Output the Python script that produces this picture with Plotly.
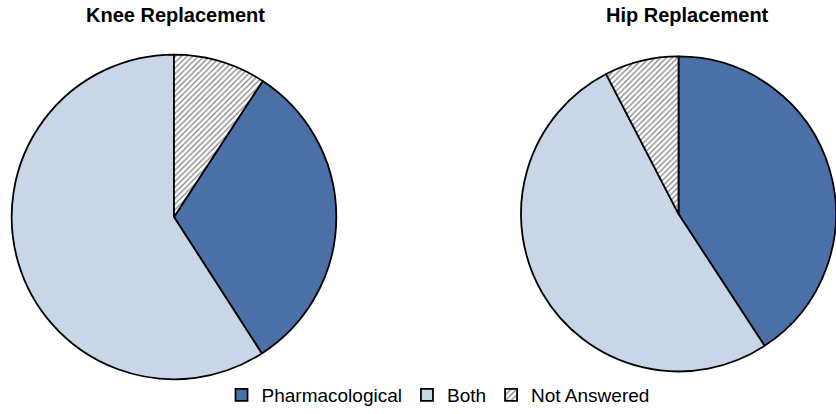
import plotly.graph_objects as go

labels = ["Pharmacological", "Both", "Not Answered"]
knee_values = [31.7, 59.1, 9.2]
hip_values = [40.8, 51.6, 7.6]
titles = ["Knee Replacement", "Hip Replacement"]

colors = ["#4b6fa7", "#c9d6e8", "#ffffff"]
patterns = ["", "", "/"]

W, H = 836, 414
FONT = "Liberation Sans, Arial, sans-serif"

def marker():
    return dict(
        colors=colors,
        line=dict(color="#000000", width=1.8),
        pattern=dict(shape=patterns, fgcolor="#000000", bgcolor="#ffffff",
                     size=4, solidity=0.3, fillmode="overlay"),
    )

fig = go.Figure()

# Knee: "Not Answered" sits just clockwise of 12 o'clock, so the first slice
# is rotated past it.
fig.add_trace(go.Pie(
    labels=labels, values=knee_values, sort=False, direction="clockwise",
    rotation=knee_values[2] / sum(knee_values) * 360,
    marker=marker(), textinfo="none", hoverinfo="label+percent",
    domain=dict(x=[11 / W, 337 / W], y=[(H - 382) / H, (H - 55) / H]),
    showlegend=True,
))

fig.add_trace(go.Pie(
    labels=labels, values=hip_values, sort=False, direction="clockwise",
    rotation=0,
    marker=marker(), textinfo="none", hoverinfo="label+percent",
    domain=dict(x=[521 / W, 1.0], y=[(H - 376) / H, (H - 55) / H]),
    showlegend=True,
))

for txt, xc in zip(titles, [175, 687]):
    fig.add_annotation(
        text=f"<b>{txt}</b>", x=xc / W, y=1 - 15 / H, xref="paper", yref="paper",
        xanchor="center", yanchor="middle", showarrow=False,
        font=dict(family=FONT, size=20, color="#000000"),
    )

fig.update_layout(
    width=W, height=H,
    margin=dict(l=0, r=0, t=0, b=0),
    paper_bgcolor="#ffffff", plot_bgcolor="#ffffff",
    font=dict(family=FONT, color="#000000"),
    legend=dict(
        orientation="h", x=438 / W, xanchor="center", y=1 - 398 / H, yanchor="middle",
        font=dict(size=19), itemwidth=30, traceorder="normal",
        bgcolor="rgba(0,0,0,0)",
    ),
)

fig.write_html("out.html")
